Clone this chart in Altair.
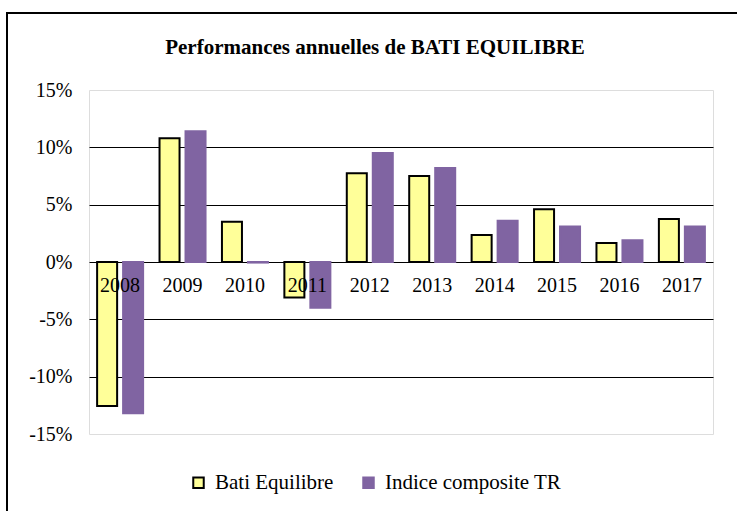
import altair as alt
import pandas as pd

years = ["2008", "2009", "2010", "2011", "2012", "2013", "2014", "2015", "2016", "2017"]
bati = [-12.55, 10.8, 3.5, -3.1, 7.75, 7.5, 2.35, 4.6, 1.65, 3.75]
indice = [-13.2, 11.4, -0.05, -4.0, 9.5, 8.2, 3.6, 3.1, 1.9, 3.1]
series = ["Bati Equilibre", "Indice composite TR"]
colors = ["#FFFF99", "#8064A2"]
strokes = ["black", "#8064A2"]
title_text = "Performances annuelles de BATI EQUILIBRE"

rows = []
for y, a, b in zip(years, bati, indice):
    rows.append({"year": y, "series": series[0], "value": a / 100})
    rows.append({"year": y, "series": series[1], "value": b / 100})
df = pd.DataFrame(rows)
lab = pd.DataFrame({"year": years, "zero": [0.0] * len(years)})
tdf = pd.DataFrame({"t": [title_text]})

FONT = "'Liberation Serif', 'Times New Roman', Times, serif"
W, H = 624, 344

xenc = alt.X("year:N", sort=years,
             scale=alt.Scale(paddingInner=0.263, paddingOuter=0.13),
             axis=None)
yscale = alt.Scale(domain=[-0.15, 0.15], nice=False, zero=False)

leg = dict(title=None, orient="none", direction="horizontal",
           legendX=99, legendY=382, symbolType="square",
           symbolSize=110, symbolStrokeWidth=2,
           labelFont=FONT, labelFontSize=21, labelColor="black",
           labelOffset=6, columnPadding=24, labelLimit=400)

bars = alt.Chart(df).mark_bar(strokeWidth=2).encode(
    x=xenc,
    xOffset=alt.XOffset("series:N", sort=series,
                        scale=alt.Scale(paddingInner=0.23, paddingOuter=0)),
    y=alt.Y("value:Q", scale=yscale,
            axis=alt.Axis(values=[-0.15, -0.1, -0.05, 0, 0.05, 0.1, 0.15],
                          labelExpr="replace(format(datum.value, '.0%'), '\u2212', '-')",
                          title=None, domain=False, ticks=False,
                          labelFont=FONT, labelFontSize=20, labelColor="black",
                          labelPadding=17, grid=True,
                          gridColor={"condition": {"test": "abs(datum.value) > 0.14", "value": "transparent"}, "value": "black"},
                          gridWidth=1)),
    fill=alt.Fill("series:N", sort=series,
                  scale=alt.Scale(domain=series, range=colors),
                  legend=alt.Legend(**leg)),
    stroke=alt.Stroke("series:N", sort=series,
                      scale=alt.Scale(domain=series, range=strokes),
                      legend=alt.Legend(**leg)),
)

labels = alt.Chart(lab).mark_text(font=FONT, fontSize=20, color="black",
                                  baseline="middle", dy=24).encode(
    x=alt.X("year:N", sort=years, axis=None),
    y=alt.Y("zero:Q", scale=yscale),
    text="year:N",
)

border = alt.Chart(lab).mark_rect(fill=None, stroke="black", strokeWidth=2).encode(
    x=alt.value(-82), x2=alt.value(W + 60), y=alt.value(-77), y2=alt.value(H + 120)
)

title = alt.Chart(tdf).mark_text(font=FONT, fontSize=21, fontWeight="bold",
                                 color="black", align="center", baseline="alphabetic").encode(
    x=alt.value(286), y=alt.value(-36), text="t:N"
)

chart = alt.layer(border, bars, labels, title).properties(
    width=W, height=H,
    autosize=alt.AutoSizeParams(type="none"),
    padding={"left": 89, "top": 90, "right": 24, "bottom": 77},
).configure_view(stroke="#8C8C8C", strokeWidth=2.5).configure(background="white")

chart.save("out.html", embed_options={"renderer": "svg", "actions": False})
